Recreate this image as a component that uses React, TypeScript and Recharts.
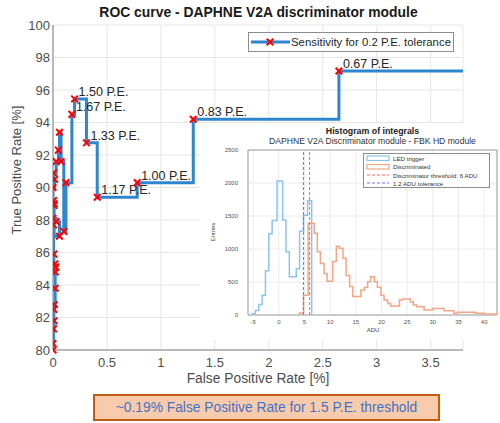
import React from 'react';
import {
  LineChart,
  Line,
  XAxis,
  YAxis,
  CartesianGrid,
  ReferenceLine,
  ReferenceArea,
} from 'recharts';

const FONT = '"Liberation Sans", Arial, sans-serif';

// ROC curve, one point per discriminator threshold
const rocFpr = [
  0, 0, 0.005, 0.01, 0.008, 0.012, 0.02, 0.02, 0.025, 0.018, 0.008, 0.005, 0, 0.03, 0.06,
  0.01, 0.005, 0.01, 0, 0.015, 0.005, 0.03, 0.05, 0.06, 0.075, 0.1, 0.12,
  0.175, 0.2, 0.31, 0.41, 0.78, 1.3, 2.65, 3.8,
];
const rocTpr = [
  80.0, 80.4, 81.3, 81.8, 82.5, 82.8, 83.8, 84.8, 85.1, 85.3, 85.9, 87.7, 88.1, 87.9, 87.0,
  88.9, 89.2, 89.0, 90.0, 90.5, 90.9, 91.6, 92.3, 93.4, 91.6, 87.3, 90.3,
  94.5, 95.45, 92.75, 89.4, 90.3, 94.2, 97.17, 97.17,
];
const rocLabels: Record<number, string> = {
  27: '1.67 P.E.',
  28: '1.50 P.E.',
  29: '1.33 P.E.',
  30: '1.17 P.E.',
  31: '1.00 P.E.',
  32: '0.83 P.E.',
  33: '0.67 P.E.',
};
const fprTicks = [0, 0.5, 1, 1.5, 2, 2.5, 3, 3.5];
const tprTicks = [80, 82, 84, 86, 88, 90, 92, 94, 96, 98, 100];

// histogram of integrals (stairs: left bin edge -> entries)
const ledEdges = [-5.2, -5.2, -4.55, -3.9, -3.25, -2.6, -1.95, -1.3, -0.35, 0.75, 1.4, 2.05, 3.4, 4.05, 4.8, 5.6, 6.4];
const ledCounts = [0, 20, 70, 160, 300, 670, 1230, 1430, 2030, 1440, 960, 580, 700, 1270, 1510, 1730, 0];
const discEdges = [
  4.0, 4.0, 4.8, 5.7, 6.9, 7.5, 8.1, 8.8, 9.4, 10.5, 11.2, 11.8, 12.5, 13.1, 13.8, 14.4, 16.0,
  16.7, 17.3, 17.9, 18.6, 19.2, 19.9, 20.5, 21.2, 21.8, 23.5, 24.1, 25.6, 26.2, 26.9, 28.3,
  29.9, 32.2, 34.1, 34.8, 38.3, 40.0, 42.5,
];
const discCounts = [
  0, 30, 300, 1390, 1240, 960, 780, 630, 510, 810, 1040, 1010, 860, 600, 430, 280, 380,
  420, 505, 580, 505, 420, 300, 227, 176, 136, 227, 242, 200, 150, 126, 76,
  100, 65, 25, 40, 25, 15, 15,
];
const aduTicks = [-5, 0, 5, 10, 15, 20, 25, 30, 35, 40];
const entryTicks = [0, 500, 1000, 1500, 2000, 2500];
const threshold = 6;
const toleranceLine = 4.8;

const rocRows = rocFpr.map((x, i) => ({ x, y: rocTpr[i], label: rocLabels[i], last: i === rocFpr.length - 1 }));
const ledRows = ledEdges.map((x, i) => ({ x, y: ledCounts[i] }));
const discRows = discEdges.map((x, i) => ({ x, y: discCounts[i] }));

const RocMarker = (props: any) => {
  const { cx, cy, payload, index } = props;
  if (payload.last) return <g key={index} />;
  const s = 3.3;
  return (
    <g key={index}>
      <path
        d={`M${cx - s},${cy - s}L${cx + s},${cy + s}M${cx - s},${cy + s}L${cx + s},${cy - s}`}
        stroke="#ff0000"
        strokeWidth={2}
      />
      {payload.label && (
        <text x={cx + 4} y={cy - 3} fontSize={12.5} fill="#262626" fontFamily={FONT}>
          {payload.label}
        </text>
      )}
    </g>
  );
};

const abs = (left: number, top: number): React.CSSProperties => ({ position: 'absolute', left, top });

const App = () => {
  return (
    <div style={{ position: 'absolute', left: 0, top: 0, width: 500, height: 423, background: '#fff', fontFamily: FONT, overflow: 'hidden' }}>
      <LineChart width={500} height={423} data={rocRows} margin={{ top: 25, right: 37, bottom: 43, left: 0 }}>
        <CartesianGrid stroke="#e6e6e6" />
        <XAxis
          type="number"
          dataKey="x"
          domain={[0, 3.8]}
          ticks={fprTicks}
          interval={0}
          allowDataOverflow
          height={30}
          tickLine={false}
          tickSize={6}
          tickMargin={2}
          axisLine={{ stroke: '#808080' }}
          tick={{ fontSize: 13, fill: '#4d4d4d', fontFamily: FONT }}
        />
        <YAxis
          type="number"
          domain={[80, 100]}
          ticks={tprTicks}
          interval={0}
          width={53}
          tickLine={false}
          tickSize={3}
          tickMargin={0}
          axisLine={{ stroke: '#808080' }}
          tick={{ fontSize: 13, fill: '#4d4d4d', fontFamily: FONT }}
        />
        <Line dataKey="y" type="stepAfter" stroke="#2e86cf" strokeWidth={3} dot={RocMarker} isAnimationActive={false} />
      </LineChart>

      <div style={{ ...abs(0, 4), width: 517, textAlign: 'center', fontSize: 13.9, fontWeight: 'bold', color: '#1a1a1a' }}>
        ROC curve - DAPHNE V2A discriminator module
      </div>
      <div style={{ ...abs(58, 371), width: 400, textAlign: 'center', fontSize: 13.8, color: '#4d4d4d' }}>
        False Positive Rate [%]
      </div>
      <div style={{ ...abs(17 - 100, 170 - 8), width: 200, textAlign: 'center', fontSize: 13, color: '#4d4d4d', transform: 'rotate(-90deg)', lineHeight: '16px' }}>
        True Positive Rate [%]
      </div>

      {/* main legend */}
      <div style={{ ...abs(248, 32), width: 206, height: 20, border: '1px solid #8c8c8c', background: '#fff', boxSizing: 'border-box' }}>
        <svg width={42} height={18} style={{ position: 'absolute', left: 1, top: 0 }}>
          <line x1={1} y1={9} x2={40} y2={9} stroke="#2e86cf" strokeWidth={3} />
          <path d="M16.7,5.7L23.3,12.3M16.7,12.3L23.3,5.7" stroke="#ff0000" strokeWidth={2} />
        </svg>
        <div style={{ ...abs(42, 2.5), fontSize: 11.4, color: '#262626', whiteSpace: 'nowrap' }}>
          Sensitivity for 0.2 P.E. tolerance
        </div>
      </div>

      {/* inset histogram */}
      <div style={{ ...abs(200, 123), width: 300, height: 217, background: '#fff' }}>
        <LineChart width={300} height={217} margin={{ top: 27, right: 3, bottom: 13, left: 0 }}>
          <CartesianGrid stroke="#ececec" />
          <XAxis
            type="number"
            dataKey="x"
            domain={[-6, 42.5]}
            ticks={aduTicks}
            interval={0}
            allowDataOverflow
            height={12}
            tickLine={false}
            axisLine={false}
            tickSize={3}
            tickMargin={1.5}
            tick={{ fontSize: 6, fill: '#555', fontFamily: FONT }}
          />
          <YAxis
            type="number"
            domain={[0, 2500]}
            ticks={entryTicks}
            interval={0}
            width={48}
            tickLine={false}
            axisLine={false}
            tickSize={8}
            tickMargin={2}
            tick={{ fontSize: 6, fill: '#555', fontFamily: FONT }}
          />
          <ReferenceArea x1={-6} x2={42.5} y1={0} y2={2500} fill="none" stroke="#8c8c8c" strokeWidth={0.8} ifOverflow="visible" />
          <Line data={ledRows} dataKey="y" type="stepAfter" stroke="#8cc4ec" strokeWidth={1.5} dot={false} isAnimationActive={false} />
          <Line data={discRows} dataKey="y" type="stepAfter" stroke="#f4a584" strokeWidth={1.5} dot={false} isAnimationActive={false} />
          <ReferenceLine x={threshold} stroke="#ff6060" strokeWidth={1} strokeDasharray="3 2" />
          <ReferenceLine x={toleranceLine} stroke="#7070ff" strokeWidth={1} strokeDasharray="3 2" />
        </LineChart>
        <div style={{ ...abs(48, 3), width: 249, textAlign: 'center', fontSize: 8.8, fontWeight: 'bold', color: '#222' }}>
          Histogram of integrals
        </div>
        <div style={{ ...abs(48, 13), width: 249, textAlign: 'center', fontSize: 8.6, color: '#333', whiteSpace: 'nowrap' }}>
          DAPHNE V2A Discriminator module - FBK HD module
        </div>
        <div style={{ ...abs(148, 204), width: 50, textAlign: 'center', fontSize: 6, color: '#444' }}>ADU</div>
        <div style={{ ...abs(13 - 30, 109 - 4), width: 60, textAlign: 'center', fontSize: 6, color: '#444', transform: 'rotate(-90deg)', lineHeight: '8px' }}>
          Entries
        </div>
        <div style={{ ...abs(163, 30), width: 127, height: 35, border: '1px solid #8c8c8c', background: '#fff', boxSizing: 'border-box', fontSize: 6.2, color: '#333' }}>
          <svg width={28} height={33} style={{ position: 'absolute', left: 1, top: 0 }}>
            <rect x={2} y={2} width={22} height={4.5} fill="none" stroke="#8cc4ec" strokeWidth={1.2} />
            <rect x={2} y={10.5} width={22} height={4.5} fill="none" stroke="#f4a584" strokeWidth={1.2} />
            <line x1={2} y1={21} x2={24} y2={21} stroke="#ff6060" strokeDasharray="3 2" />
            <line x1={2} y1={29} x2={24} y2={29} stroke="#7070ff" strokeDasharray="3 2" />
          </svg>
          <div style={{ ...abs(29, 1), whiteSpace: 'nowrap', lineHeight: '8.4px' }}>
            LED trigger<br />Discriminated<br />Discriminator threshold: 6 ADU<br />1.2 ADU tolerance
          </div>
        </div>
      </div>

      {/* note box */}
      <div
        style={{
          ...abs(93, 394),
          width: 347,
          height: 27,
          boxSizing: 'border-box',
          border: '2px solid #c55a11',
          background: '#f8cbad',
          color: '#4472c4',
          fontSize: 13.8,
          textAlign: 'center',
          lineHeight: '23px',
        }}
      >
        ~0.19% False Positive Rate for 1.5 P.E. threshold
      </div>
    </div>
  );
};

export default App;
